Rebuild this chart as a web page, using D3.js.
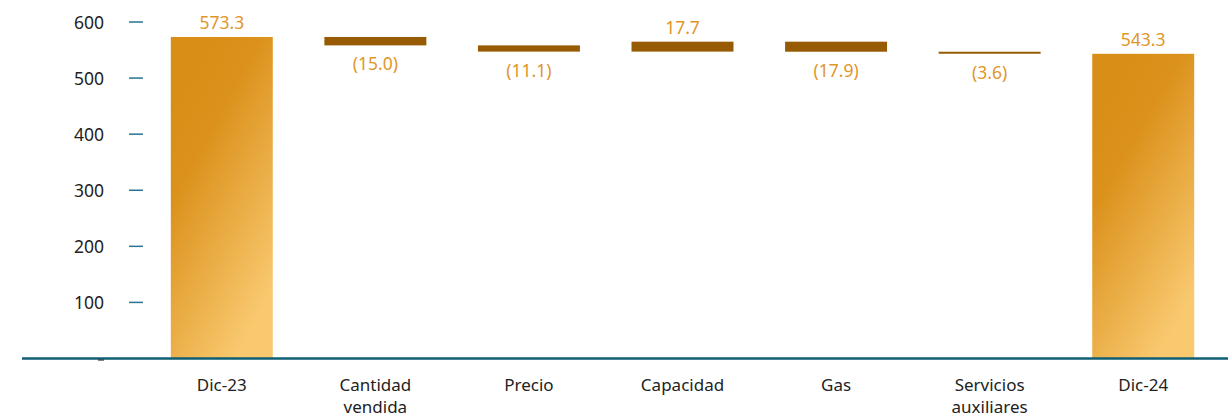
<!DOCTYPE html>
<html><head><meta charset="utf-8">
<script src="https://cdn.jsdelivr.net/npm/d3@7"></script>
<style>body{margin:0;background:#fff}svg{display:block}text{font-family:"Noto Sans",sans-serif}</style>
</head><body><svg id="c" width="1228" height="417"></svg>
<script>
const categories = ["Dic-23","Cantidad vendida","Precio","Capacidad","Gas","Servicios auxiliares","Dic-24"];
const values = [573.3, -15.0, -11.1, 17.7, -17.9, -3.6, 543.3];
const kinds = ["total","delta","delta","delta","delta","delta","total"];
const yTicks = [100,200,300,400,500,600];

const svg = d3.select("#c");
const W = 1228, H = 417;
const x = d3.scaleBand().domain(categories).range([145, 1220]).paddingInner(0.336).paddingOuter(0.168);
const y = d3.scaleLinear().domain([0, 600]).range([358.5, 22]);

// waterfall
let run = 0;
const bars = categories.map((c, i) => {
  let y0, y1;
  if (kinds[i] === "total") { y0 = 0; y1 = values[i]; run = values[i]; }
  else { y0 = run; y1 = run + values[i]; run = y1; }
  return {c, v: values[i], kind: kinds[i], lo: Math.min(y0, y1), hi: Math.max(y0, y1)};
});

const defs = svg.append("defs");
const g = defs.append("linearGradient").attr("id","gold")
  .attr("x1","0").attr("y1","0.22").attr("x2","0.5").attr("y2","1.08");
g.append("stop").attr("offset","0").attr("stop-color","#d98e18");
g.append("stop").attr("offset","0.25").attr("stop-color","#db911b");
g.append("stop").attr("offset","1").attr("stop-color","#f9c970");

// y axis ticks
const yAxis = d3.axisLeft(y).tickValues(yTicks).tickSize(0).tickPadding(0);
const ya = svg.append("g").attr("transform","translate(104,0)").call(yAxis);
ya.select(".domain").remove();
ya.selectAll("text").attr("font-size",17.5).attr("fill","#222").attr("dy","0.35em");
svg.append("g").selectAll("line").data(yTicks).join("line")
  .attr("x1",129).attr("x2",143).attr("y1",d=>y(d)).attr("y2",d=>y(d))
  .attr("stroke","#2a7590").attr("stroke-width",1.5);

// bars
svg.append("g").selectAll("rect").data(bars).join("rect")
  .attr("x", d => x(d.c)).attr("width", x.bandwidth())
  .attr("y", d => y(d.hi)).attr("height", d => Math.max(1.5, y(d.lo) - y(d.hi)))
  .attr("fill", d => d.kind === "total" ? "url(#gold)" : "#975c03");

// baseline
svg.append("line").attr("x1",22).attr("x2",W).attr("y1",y(0)).attr("y2",y(0))
  .attr("stroke","#0f5e73").attr("stroke-width",2.5);
svg.append("line").attr("x1",98).attr("x2",104).attr("y1",y(0)+1.5).attr("y2",y(0)+1.5)
  .attr("stroke","#333").attr("stroke-width",1.2);

// value labels
const fmt = v => v < 0 ? "(" + d3.format(".1f")(-v) + ")" : d3.format(".1f")(v);
svg.append("g").selectAll("text").data(bars).join("text")
  .attr("x", d => x(d.c) + x.bandwidth()/2)
  .attr("y", d => d.v < 0 ? y(d.lo) + 25 : y(d.hi) - 8)
  .attr("text-anchor","middle").attr("font-size",17.5).attr("fill","#e0962a")
  .text(d => fmt(d.v));

// category labels (one text per line)
const lines = [];
categories.forEach(c => c.split(" ").forEach((w, i) => lines.push({c, w, i})));
svg.append("g").selectAll("text").data(lines).join("text")
  .attr("x", d => x(d.c) + x.bandwidth()/2).attr("y", d => 391 + d.i * 22)
  .attr("text-anchor","middle").attr("font-size",17).attr("fill","#222")
  .text(d => d.w);
</script></body></html>
